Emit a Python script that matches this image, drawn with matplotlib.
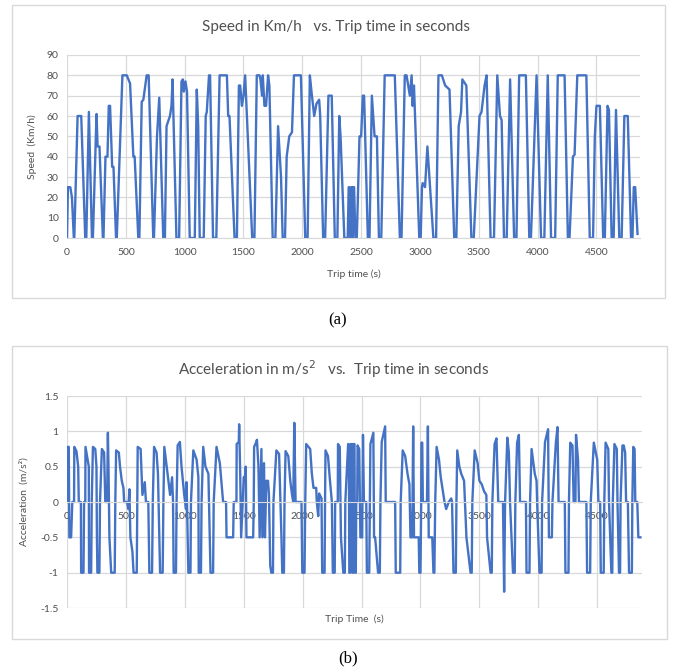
import matplotlib
matplotlib.use("Agg")
import matplotlib.pyplot as plt
from matplotlib.patches import Rectangle
from matplotlib.ticker import FuncFormatter

#Speed profile breakpoints (trip time in s, speed in km/h)
speed_t = [0, 8, 28, 42, 58, 62, 90, 121, 155, 164, 186, 212, 220, 251, 260, 276, 305,
           310, 327, 344, 355, 366, 384, 395, 417, 423, 471, 508, 522, 536, 564, 575, 606,
           615, 635, 649, 677, 694, 733, 739, 765, 784, 818, 832, 846, 875, 888, 897, 930,
           953, 973, 985, 993, 1007, 1020, 1043, 1086, 1103, 1115, 1128, 1162, 1179, 1188, 1207, 1216, 1241,
           1269, 1297, 1359, 1370, 1381, 1424, 1444, 1461, 1472, 1486, 1500, 1514, 1574,
           1593, 1613, 1636, 1644, 1658, 1664, 1678, 1692, 1709, 1720, 1748,
           1771, 1794, 1819, 1833, 1853, 1867, 1889, 1912, 1929, 1988, 2025,
           2045, 2064, 2078, 2101, 2120, 2143, 2152, 2177, 2194, 2222, 2250, 2276,
           2298, 2314, 2325, 2357, 2386, 2394, 2400, 2408, 2417, 2422, 2429, 2434, 2440, 2451,
           2463, 2486, 2500, 2514, 2525, 2557, 2571, 2591, 2614, 2634, 2651,
           2671, 2700, 2786, 2829, 2843, 2871, 2886, 2914, 2929, 2937, 2949, 2994,
           3006, 3017, 3023, 3043, 3063, 3114, 3137, 3157, 3186, 3214, 3251, 3291,
           3309, 3329, 3349, 3360, 3394, 3437, 3457, 3506, 3523, 3549, 3566, 3600,
           3629, 3657, 3680, 3694, 3714, 3737, 3766, 3800, 3820, 3843, 3900, 3929,
           3943, 3991, 4029, 4057, 4086, 4114, 4149, 4171, 4229, 4257,
           4271, 4300, 4314, 4337, 4414, 4443, 4471, 4486, 4500, 4529, 4557,
           4571, 4594, 4606, 4629, 4646, 4666, 4694, 4714, 4737, 4766, 4794,
           4806, 4817, 4829, 4849]
speed_v = [0, 25, 25, 20, 0, 0, 60, 60, 0, 0, 62, 0, 0, 61, 45, 45, 0,
           0, 40, 40, 65, 65, 35, 35, 0, 0, 80, 80, 78, 76, 40, 40, 0,
           0, 67, 68, 80, 80, 0, 0, 50, 69, 0, 0, 55, 60, 65, 78, 0,
           0, 77, 78, 72, 77, 72, 0, 0, 73, 55, 0, 0, 60, 62, 80, 80, 0,
           0, 80, 80, 60, 60, 0, 0, 75, 75, 65, 70, 80, 0,
           0, 80, 80, 78, 70, 80, 65, 65, 80, 75, 0,
           0, 55, 30, 0, 0, 40, 50, 52, 80, 80, 0,
           0, 80, 72, 60, 66, 68, 60, 0, 0, 70, 70, 0,
           0, 60, 50, 0, 0, 25, 25, 0, 25, 25, 0, 25, 25, 0,
           0, 50, 50, 70, 70, 0, 0, 70, 50, 50, 0,
           0, 80, 80, 0, 0, 80, 80, 70, 80, 65, 75, 0,
           0, 25, 27, 25, 45, 0, 0, 80, 80, 75, 73, 0,
           0, 55, 62, 78, 75, 0, 0, 60, 62, 75, 80, 0,
           0, 80, 60, 58, 0, 0, 78, 0, 0, 80, 80, 0,
           0, 80, 0, 0, 80, 0, 0, 80, 80, 0,
           0, 40, 41, 80, 80, 0, 0, 50, 65, 65, 0,
           0, 65, 63, 0, 0, 63, 0, 0, 60, 60, 0,
           0, 25, 25, 2]

#Acceleration breakpoints (trip time in s, acceleration in m/s^2)
acc_t = [0, 5, 15, 20, 35, 45, 60, 62, 80, 95, 100, 118, 120, 140, 145, 155, 157, 175, 185, 187,
         205, 210, 220, 240, 250, 254, 258, 275, 280, 296, 315, 325, 340, 347, 352, 360, 375, 405,
         410, 417, 440, 450, 465, 479, 485, 510, 520, 530, 538, 555, 565, 592, 597, 600, 625, 640,
         660, 670, 690, 699, 722, 728, 739, 760, 772, 790, 812, 818, 826, 846, 860, 875, 892, 900,
         905, 925, 930, 939, 958, 972, 995, 1010, 1015, 1030, 1048, 1052, 1072, 1100, 1115, 1118,
         1137, 1142, 1156, 1175, 1200, 1218, 1240, 1245, 1269, 1297, 1310, 1325, 1350, 1354, 1410,
         1415, 1438, 1440, 1458, 1461, 1470, 1478, 1500, 1509, 1517, 1523, 1580, 1585, 1588, 1607,
         1612, 1625, 1635, 1650, 1658, 1672, 1680, 1692, 1706, 1714, 1725, 1734, 1748, 1752, 1777,
         1800, 1820, 1827, 1841, 1846, 1855, 1878, 1895, 1910, 1920, 1929, 1940, 1990, 1997, 2016,
         2022, 2030, 2064, 2078, 2092, 2115, 2120, 2132, 2140, 2160, 2166, 2186, 2190, 2194, 2215,
         2232, 2248, 2256, 2272, 2276, 2298, 2300, 2315, 2325, 2345, 2358, 2362, 2386, 2392, 2396,
         2404, 2410, 2418, 2422, 2429, 2432, 2440, 2444, 2451, 2455, 2463, 2466, 2480, 2490, 2505,
         2512, 2520, 2540, 2545, 2565, 2570, 2575, 2600, 2606, 2615, 2640, 2655, 2660, 2671, 2700,
         2705, 2785, 2790, 2828, 2832, 2849, 2870, 2890, 2906, 2915, 2930, 2938, 2945, 2985, 2990,
         3000, 3006, 3008, 3015, 3020, 3055, 3063, 3070, 3100, 3110, 3118, 3125, 3137, 3157, 3172,
         3204, 3218, 3240, 3261, 3268, 3280, 3300, 3305, 3312, 3330, 3346, 3370, 3390, 3425, 3435,
         3440, 3460, 3485, 3500, 3520, 3540, 3559, 3565, 3595, 3605, 3610, 3629, 3645, 3660, 3700,
         3710, 3718, 3737, 3750, 3760, 3785, 3800, 3805, 3820, 3835, 3845, 3895, 3900, 3925, 3930,
         3943, 3970, 3985, 3990, 4010, 4028, 4032, 4057, 4083, 4090, 4115, 4120, 4149, 4163, 4172,
         4225, 4230, 4256, 4260, 4271, 4290, 4300, 4315, 4320, 4337, 4345, 4408, 4414, 4440, 4445,
         4471, 4500, 4510, 4525, 4530, 4555, 4560, 4571, 4594, 4600, 4620, 4628, 4632, 4646, 4666,
         4672, 4685, 4694, 4698, 4714, 4725, 4737, 4745, 4760, 4770, 4794, 4798, 4806, 4817, 4823,
         4840, 4849, 4866]
acc_a = [0, 0.78, 0.78, -0.5, -0.5, 0, 0, 0.78, 0.72, 0.5, 0, 0, -1, -1, 0, 0, 0.78, 0.6, 0.5, -1,
         -1, 0, 0.78, 0.75, 0.5, -0.5, -1, -1, 0, 0.75, 0.7, 0, 0, 0.98, 0.5, -0.5, -1, -1,
         0, 0.73, 0.7, 0.5, 0.3, 0.2, 0, 0, -0.1, 0.18, -0.5, -0.7, -1, -1, 0, 0.78, 0.75, 0.1,
         0.28, 0, 0, -1, -1, 0, 0.78, 0.7, 0.4, -1, -1, 0, 0.78, 0.5, 0.3, 0.1, 0.35, 0,
         -1, -1, 0, 0.8, 0.85, 0.5, 0.1, -0.1, 0.28, -1, -1, 0, 0.73, 0.6, 0.35, -1,
         -1, 0, 0.78, 0.5, 0.4, -1, -1, 0, 0.78, 0.55, 0.3, 0, 0, -0.5, -0.5,
         0, 0, 0.82, 0.85, 1.1, 0.4, -0.5, 0.35, 0.35, 0.5, -0.5, -0.5, 0, 0.78, 0.85,
         0.88, 0.5, -0.5, 0.75, -0.5, 0.55, -0.5, 0.3, 0.3, 0.1, -0.9, -1, -1, 0, 0.73,
         0.68, -0.5, -1, -1, 0, 0.72, 0.65, 0.3, 0.1, 0, 1.12, 0, 0, -1, -1,
         0, 0.82, 0.75, 0.4, 0.2, 0.2, 0, -0.2, 0.12, 0.05, -1, -1, 0, 0.73, 0.65,
         0.3, 0, -1, -1, 0, 0, 0.82, 0.78, -0.5, -1, -1, 0, 0.82, 0.82, -1,
         -1, 0.82, 0.82, -1, -1, 0.82, 0.82, -1, -1, 0, 0, 0.8, 0.75, -0.5, -0.5,
         0.95, 0, 0, -1, -1, 0, 0.82, 0.98, -0.5, -0.5, -1, -1, 0, 0.85, 1.07,
         0, 0, -1, -1, 0, 0.73, 0.65, 0.4, 0.25, -0.5, -0.5, 1.07, -0.5, -0.5, -1,
         -1, 0, 0.84, 0.84, 0, 0, 1.07, -0.5, -0.5, -1, -1, 0, 0.78, 0.6, 0.35,
         0, -0.1, 0, 0.05, 0, -1, -1, 0, 0.73, 0.5, 0.4, 0.3, -0.5, -1, -1,
         0, 0.73, 0.55, 0.3, 0.25, 0.15, 0.1, -0.5, -1, -1, 0, 0.82, 0.9, 0, 0,
         -1.27, 0, 0.91, 0.7, 0, -1, -1, 0, 0.84, 0.95, 0, 0, -1, -1, 0,
         0.75, 0.4, 0.3, 0, -1, -1, 0, 0.85, 1.03, -0.5, -0.5, 0, 0.84, 1.06, 0,
         0, -1, -1, 0, 0.84, 0.8, 0, 0, 0.95, 0.6, 0, 0, -1, -1, 0,
         0.84, 0.6, 0, 0, -1, -1, 0, 0.84, 0.75, 0, -1, -1, 0, 0.82, 0.75,
         0, -1, -1, 0, 0.8, 0.8, 0.7, 0, 0, -1, -1, 0, 0.78, 0.75, 0,
         0, -0.5, -0.5]

line_col = "#4472C4"
grid_col = "#d9d9d9"
text_col = "#505050"
font = "Lato"

fig = plt.figure(figsize=(6.77, 6.72), dpi=100)

#light frames around each chart
fig.patches.append(Rectangle((12/677, 1-298/672), 653/677, 293/672, transform=fig.transFigure,
                             fill=False, edgecolor=grid_col, lw=1))
fig.patches.append(Rectangle((12/677, 1-639/672), 655/677, 293/672, transform=fig.transFigure,
                             fill=False, edgecolor=grid_col, lw=1))

def style(ax):
    ax.grid(True, color=grid_col, lw=0.9)
    ax.set_axisbelow(True)
    for s in ["top", "right", "left"]:
        ax.spines[s].set_visible(False)
    ax.spines["bottom"].set_color(grid_col)
    ax.tick_params(length=0, labelsize=7.5, labelcolor=text_col)
    for lab in ax.get_xticklabels() + ax.get_yticklabels():
        lab.set_fontfamily(font)

#Chart (a): speed
ax1 = fig.add_axes([67/677, 1-238/672, 573/677, 183/672])
ax1.plot(speed_t, speed_v, color=line_col, lw=1.7)
ax1.set_xlim(0, 4870)
ax1.set_ylim(0, 90)
ax1.set_xticks(range(0, 5000, 500))
ax1.set_yticks(range(0, 100, 10))
ax1.tick_params(axis="x", pad=7)
ax1.tick_params(axis="y", pad=6)
style(ax1)
ax1.set_xlabel("Trip time (s)", fontsize=7.5, color=text_col, family=font)
ax1.xaxis.set_label_coords(0.5, -0.17)
ax1.set_ylabel("Speed  (Km/h)", fontsize=7.5, color=text_col, family=font)
ax1.yaxis.set_label_coords(-0.052, 0.5)
fig.text(336/677, 1-27/672, "Speed in Km/h   vs. Trip time in seconds", ha="center", va="center",
         fontsize=11, color=text_col, family=font)
fig.text(338/677, 1-320/672, "(a)", ha="center", va="center", fontsize=12, family="Liberation Serif")

#Chart (b): acceleration
ax2 = fig.add_axes([67/677, 1-608/672, 575/677, 212/672])
ax2.plot(acc_t, acc_a, color=line_col, lw=1.7)
ax2.set_xlim(0, 4880)
ax2.set_ylim(-1.5, 1.5)
ax2.set_xticks(range(0, 5000, 500))
ax2.set_yticks([-1.5, -1, -0.5, 0, 0.5, 1, 1.5])
ax2.yaxis.set_major_formatter(FuncFormatter(lambda v, p: "%g" % v))
ax2.spines["bottom"].set_position(("data", 0))
ax2.tick_params(axis="x", pad=7)
ax2.tick_params(axis="y", pad=6)
style(ax2)
ax2.set_xlabel("Trip Time  (s)", fontsize=7.5, color=text_col, family=font)
ax2.xaxis.set_label_coords(0.5, -0.03)
ax2.set_ylabel("Acceleration  (m/s²)", fontsize=7.5, color=text_col, family=font)
ax2.yaxis.set_label_coords(-0.066, 0.5)
fig.text(334/677, 1-369/672, "Acceleration in m/s$^2$   vs.  Trip time in seconds", ha="center",
         va="center", fontsize=11, color=text_col, family=font)
fig.text(348/677, 1-658/672, "(b)", ha="center", va="center", fontsize=12, family="Liberation Serif")

fig.savefig("out.png", dpi=100)
